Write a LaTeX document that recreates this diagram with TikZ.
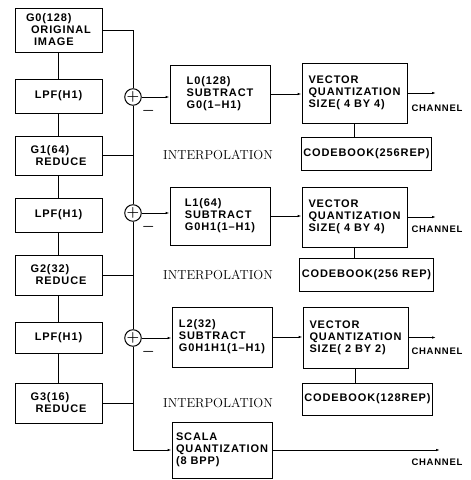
\documentclass[tikz,border=0pt]{standalone}
\usepackage{fontspec}
\newfontfamily\blkfont{Liberation Sans}[LetterSpace=8]
\usetikzlibrary{arrows.meta}
\tikzset{
	blk/.style 2 args={draw,line width=0.8pt,align=left,inner sep=2pt,minimum width=#1,minimum height=#2,
		font=\blkfont\bfseries\fontsize{11}{12}\selectfont},
	sum/.style={draw,circle,line width=1pt,minimum size=15pt,inner sep=0pt,font=\Large,
		label={[label distance=-2pt,font=\Large]-40:$\boldsymbol{-}$}},
	lbl/.style={font=\fontsize{13}{14}\selectfont},
	chn/.style={font=\blkfont\bfseries\fontsize{9.5}{10}\selectfont},
	ar/.style={-{Latex[length=4pt,width=2.5pt]}}
}
\usepackage{amsmath}

\begin{document}
\begin{tikzpicture}[x=1pt,y=-1pt,line width=0.9pt]
	\useasboundingbox (0,0) rectangle (471,480);

	% pyramid
	\node [blk={87}{44}] (g0) at (58.5,30) {G0(128)\\\hspace{5pt}ORIGINAL\\\hspace{8pt}IMAGE};
	\node [blk={87}{34}] (lpf1) at (58.5,96) {LPF(H1)};
	\node [blk={87}{39}] (g1) at (58.5,155.5) {G1(64)\\\hspace{5pt}REDUCE};
	\node [blk={87}{34}] (lpf2) at (58.5,215) {LPF(H1)};
	\node [blk={87}{40}] (g2) at (58.5,275) {G2(32)\\\hspace{5pt}REDUCE};
	\node [blk={87}{31}] (lpf3) at (58.5,337.5) {LPF(H1)};
	\node [blk={87}{40}] (g3) at (58.5,403) {G3(16)\\\hspace{5pt}REDUCE};

	% adders
	\node [sum] (s1) at (133,97) {$\boldsymbol{+}$};
	\node [sum] (s2) at (133,213) {$\boldsymbol{+}$};
	\node [sum] (s3) at (133,338) {$\boldsymbol{+}$};

	% differences
	\node [blk={100}{58}] (l0) at (220,94) {L0(128)\\SUBTRACT\\G0(1\textendash H1)};
	\node [blk={100}{58}] (l1) at (220,216) {L1(64)\\SUBTRACT\\G0H1(1\textendash H1)};
	\node [blk={100}{60}] (l2) at (222,337) {L2(32)\\SUBTRACT\\G0H1H1(1\textendash H1)};
	\node [blk={100}{56}] (scala) at (222,450) {SCALA\\QUANTIZATION\\(8 BPP)};

	\node [lbl] (ip1) at (218,155) {INTERPOLATION};
	\node [lbl] (ip2) at (218,275) {INTERPOLATION};
	\node [lbl] (ip3) at (218,403) {INTERPOLATION};

	% quantizers
	\node [blk={105}{60}] (vq1) at (354.5,93) {VECTOR\\QUANTIZATION\\SIZE( 4 BY 4)};
	\node [blk={105}{60}] (vq2) at (354.5,217) {VECTOR\\QUANTIZATION\\SIZE( 4 BY 4)};
	\node [blk={105}{61}] (vq3) at (355.5,337.5) {VECTOR\\QUANTIZATION\\SIZE( 2 BY 2)};
	\node [blk={129}{33}] (cb1) at (366.5,153.5) {CODEBOOK(256REP)};
	\node [blk={129}{33}] (cb2) at (366.5,274.5) {CODEBOOK(256 REP)};
	\node [blk={129}{32}] (cb3) at (367.5,399) {CODEBOOK(128REP)};

	\coordinate (c1) at (436,93);
	\coordinate (c2) at (436,217);
	\coordinate (c3) at (436,337.5);
	\coordinate (c4) at (440,450);
	\node [chn] (ch1) at (437,108) {CHANNEL};
	\node [chn] (ch2) at (437,229) {CHANNEL};
	\node [chn] (ch3) at (437,351) {CHANNEL};
	\node [chn] (ch4) at (437,462) {CHANNEL};

	% left column
	\draw (g0) -- (lpf1);
	\draw (lpf1) -- (g1);
	\draw (g1) -- (lpf2);
	\draw (lpf2) -- (g2);
	\draw (g2) -- (lpf3);
	\draw (lpf3) -- (g3);

	% bus
	\draw (g0.east) -| (s1.north);
	\draw (s1.south) -- (s2.north);
	\draw (s2.south) -- (s3.north);
	\draw (g1.east) -- (g1.east -| s1.center);
	\draw (g2.east) -- (g2.east -| s2.center);
	\draw (g3.east) -- (g3.east -| s3.center);
	\draw [ar] (s3.south) |- (scala.west);

	% rows
	\draw [ar] (s1.east) -- (s1.east -| l0.west);
	\draw [ar] (s2.east) -- (s2.east -| l1.west);
	\draw [ar] (s3.east) -- (s3.east -| l2.west);
	\draw [ar] (l0.east) -- (l0.east -| vq1.west);
	\draw [ar] (l1.east) -- (l1.east -| vq2.west);
	\draw [ar] (l2.east) -- (l2.east -| vq3.west);
	\draw [ar] (vq1.east) -- (c1);
	\draw [ar] (vq2.east) -- (c2);
	\draw [ar] (vq3.east) -- (c3);
	\draw [ar] (scala.east) -- (c4);

	% codebooks
	\draw [line width=1.5pt] (vq1.south) -- (vq1.south |- cb1.north);
	\draw [line width=1.5pt] (vq2.south) -- (vq2.south |- cb2.north);
	\draw [line width=1.5pt] (vq3.south) -- (vq3.south |- cb3.north);
\end{tikzpicture}
\end{document}
